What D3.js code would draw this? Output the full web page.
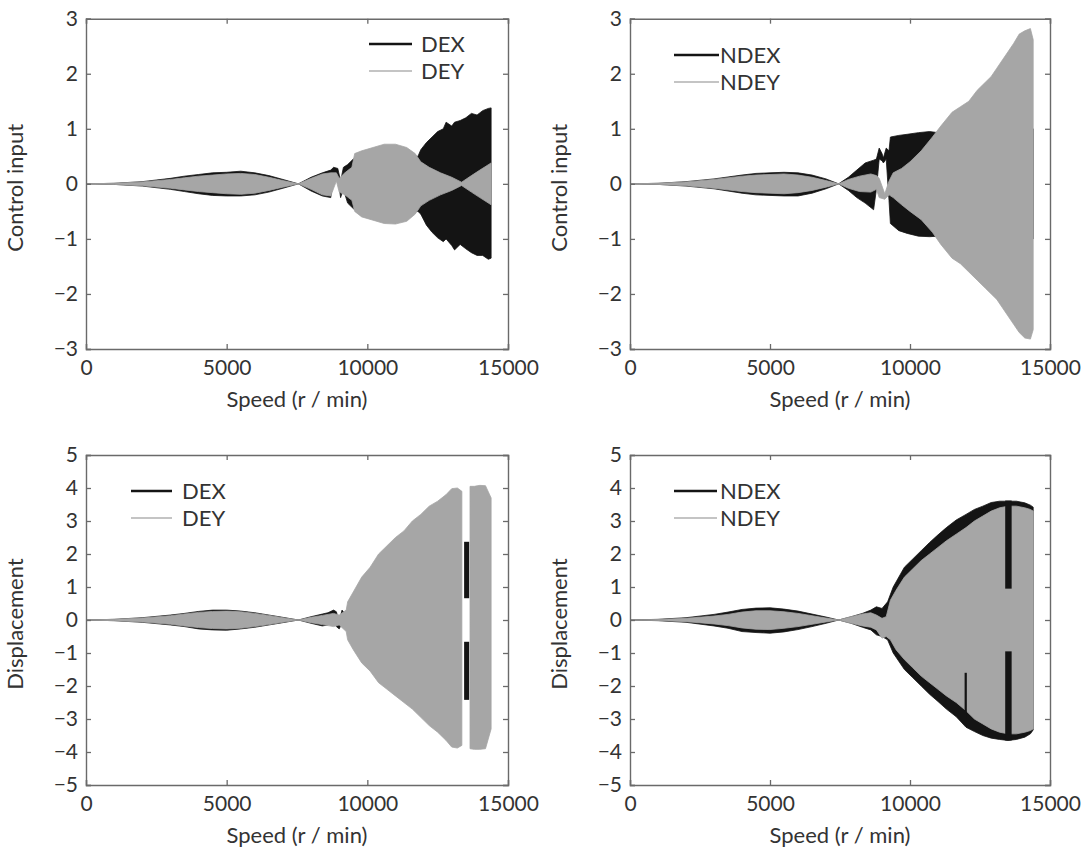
<!DOCTYPE html>
<html><head><meta charset="utf-8">
<script src="https://cdn.jsdelivr.net/npm/d3@7"></script>
<style>
body{margin:0;background:#fff}
text{font-family:Lato,'Open Sans',sans-serif;fill:#333}
</style>
</head><body>
<svg id="c" width="1084" height="857"></svg>
<script>
// ---------------- data ----------------
const xTicks = [0, 5000, 10000, 15000];
const ctrlTicks = [-3, -2, -1, 0, 1, 2, 3];
const dispTicks = [-5, -4, -3, -2, -1, 0, 1, 2, 3, 4, 5];
const legendP1 = ["DEX", "DEY"];
const legendP2 = ["NDEX", "NDEY"];

// each row: [speed (r/min), upper envelope, lower envelope]; null = no signal
const p1DEX = [[0,0,0],[1000,0.01,-0.01],[2000,0.04,-0.04],[3000,0.1,-0.1],[3500,0.14,-0.14],[4000,0.17,-0.18],[4500,0.2,-0.21],[5000,0.21,-0.22],[5500,0.23,-0.22],[6000,0.2,-0.2],[6500,0.15,-0.15],[7000,0.08,-0.08],[7550,0,0],[8000,0.12,-0.13],[8400,0.2,-0.22],[8700,0.25,-0.25],[8800,0.3,0.1],[8950,0.28,0.12],[9050,0.05,-0.25],[9150,0.3,-0.1],[9300,0.35,-0.35],[9500,0.45,-0.45],[9700,0.5,-0.5],[11800,0.5,-0.5],[11900,0.62,-0.55],[12100,0.75,-0.75],[12300,0.85,-0.88],[12500,0.95,-0.98],[12700,1.0,-1.05],[12800,1.12,-1.0],[13000,1.05,-1.12],[13100,1.12,-1.2],[13300,1.15,-1.1],[13500,1.2,-1.18],[13700,1.28,-1.25],[13900,1.25,-1.3],[14100,1.33,-1.3],[14300,1.37,-1.37],[14400,1.38,-1.35]];
const p1DEY = [[0,0,0],[1000,0.01,-0.01],[2000,0.035,-0.035],[3000,0.08,-0.08],[3500,0.11,-0.11],[4000,0.14,-0.14],[4500,0.16,-0.16],[5000,0.18,-0.18],[5500,0.19,-0.19],[6000,0.17,-0.17],[6500,0.12,-0.12],[7000,0.06,-0.06],[7550,0,0],[8000,0.1,-0.1],[8400,0.18,-0.2],[8700,0.2,-0.22],[8900,0.2,0.05],[9000,0.1,-0.15],[9200,0.2,-0.2],[9450,0.3,-0.3],[9550,0.55,-0.5],[9800,0.6,-0.6],[10200,0.66,-0.66],[10600,0.72,-0.72],[11000,0.72,-0.73],[11400,0.66,-0.68],[11700,0.55,-0.55],[11900,0.4,-0.4],[12200,0.3,-0.3],[12600,0.2,-0.2],[13000,0.12,-0.12],[13350,0.03,-0.03],[13700,0.15,-0.15],[14000,0.25,-0.25],[14400,0.38,-0.38]];

const p2NDEX = [[0,0,0],[1000,0.01,-0.01],[2000,0.04,-0.04],[3000,0.09,-0.09],[4000,0.16,-0.17],[4500,0.19,-0.2],[5000,0.2,-0.21],[5500,0.21,-0.22],[6000,0.2,-0.22],[6500,0.16,-0.17],[7000,0.09,-0.09],[7450,0,0],[7800,0.12,-0.12],[8100,0.25,-0.25],[8400,0.38,-0.35],[8700,0.43,-0.47],[8800,0.45,-0.1],[8900,0.65,0.45],[9000,0.55,0.42],[9050,0.47,0.38],[9150,0.65,0.45],[9250,0.6,-0.3],[9300,0.85,-0.72],[9600,0.88,-0.85],[9900,0.9,-0.9],[10300,0.93,-0.95],[10700,0.95,-0.96],[11000,0.93,-0.95],[11200,1.0,-1.0],[14400,1.0,-1.0]];
const p2NDEY = [[0,0,0],[1000,0.01,-0.01],[2000,0.035,-0.035],[3000,0.08,-0.08],[4000,0.14,-0.14],[4500,0.16,-0.16],[5000,0.17,-0.17],[5500,0.18,-0.18],[6000,0.16,-0.16],[6500,0.12,-0.12],[7000,0.06,-0.06],[7450,0,0],[7800,0.08,-0.08],[8200,0.14,-0.14],[8600,0.18,-0.15],[8800,0.15,-0.1],[8900,0.1,-0.25],[9100,-0.18,-0.28],[9250,0.05,-0.2],[9400,0.2,-0.25],[9700,0.28,-0.38],[10000,0.4,-0.5],[10400,0.6,-0.65],[10800,0.85,-0.88],[11100,1.05,-1.1],[11500,1.3,-1.35],[11800,1.4,-1.45],[12100,1.5,-1.6],[12400,1.7,-1.75],[12700,1.85,-1.9],[12900,1.95,-2.0],[13100,2.1,-2.1],[13300,2.25,-2.25],[13500,2.4,-2.4],[13700,2.55,-2.55],[13900,2.72,-2.7],[14100,2.78,-2.8],[14300,2.82,-2.82],[14400,2.62,-2.65]];

const p3DEX = [[0,0,0],[1000,0.02,-0.02],[2000,0.07,-0.07],[3000,0.15,-0.15],[3500,0.2,-0.2],[4000,0.26,-0.27],[4500,0.3,-0.3],[5000,0.3,-0.31],[5500,0.27,-0.27],[6000,0.22,-0.22],[6500,0.15,-0.15],[7000,0.08,-0.08],[7550,0,0],[8000,0.1,-0.1],[8400,0.18,-0.18],[8600,0.22,-0.15],[8800,0.3,0.08],[8900,0.25,-0.2],[9000,-0.05,-0.27],[9100,0.3,-0.1],[9200,0.2,-0.2],[9300,0,0]];
const p3DEY = [[0,0,0],[1000,0.02,-0.02],[2000,0.06,-0.06],[3000,0.13,-0.13],[3500,0.18,-0.18],[4000,0.23,-0.23],[4500,0.26,-0.26],[5000,0.27,-0.27],[5500,0.25,-0.25],[6000,0.2,-0.2],[6500,0.14,-0.14],[7000,0.07,-0.07],[7550,0,0],[8000,0.08,-0.08],[8400,0.14,-0.14],[8800,0.2,-0.2],[9000,0.15,-0.15],[9250,0.3,-0.35],[9300,0.55,-0.6],[9500,0.85,-0.9],[9800,1.3,-1.3],[10100,1.6,-1.55],[10400,2.0,-1.9],[10700,2.25,-2.1],[11000,2.5,-2.3],[11300,2.7,-2.5],[11600,3.0,-2.7],[11900,3.2,-2.95],[12200,3.45,-3.2],[12500,3.6,-3.4],[12800,3.8,-3.65],[13000,3.98,-3.85],[13200,4.0,-3.88],[13360,3.9,-3.8],[13370,null,null],[13640,null,null],[13650,4.05,-3.9],[13800,4.05,-3.92],[14000,4.08,-3.92],[14200,4.07,-3.9],[14400,3.7,-3.3]];
const p3DEXburst = [[13440,2.37,0.66],[13620,2.37,0.66]];
const p3DEXburstLow = [[13440,-0.66,-2.42],[13620,-0.66,-2.42]];

const p4NDEX = [[0,0,0],[1000,0.02,-0.02],[2000,0.07,-0.07],[3000,0.17,-0.18],[3500,0.24,-0.25],[4000,0.32,-0.35],[4500,0.36,-0.38],[5000,0.37,-0.4],[5500,0.33,-0.36],[6000,0.27,-0.29],[6500,0.18,-0.2],[7000,0.09,-0.1],[7450,0,0],[7900,0.1,-0.1],[8300,0.2,-0.22],[8600,0.3,-0.3],[8800,0.4,-0.45],[9000,0.35,-0.5],[9200,0.55,-0.6],[9400,1.0,-1.0],[9800,1.6,-1.5],[10100,1.85,-1.75],[10400,2.1,-2.0],[10700,2.35,-2.25],[11000,2.58,-2.47],[11300,2.8,-2.7],[11650,3.03,-2.93],[12000,3.2,-3.25],[12300,3.35,-3.38],[12600,3.45,-3.5],[12900,3.56,-3.58],[13200,3.6,-3.62],[13500,3.6,-3.65],[13800,3.6,-3.62],[14100,3.55,-3.55],[14300,3.48,-3.45],[14400,3.42,-3.33]];
const p4NDEY = [[0,0,0],[1000,0.015,-0.015],[2000,0.05,-0.05],[3000,0.12,-0.12],[3500,0.17,-0.17],[4000,0.24,-0.24],[4500,0.28,-0.28],[5000,0.28,-0.29],[5500,0.25,-0.25],[6000,0.2,-0.2],[6500,0.13,-0.13],[7000,0.06,-0.06],[7450,0,0],[7900,0.1,-0.1],[8300,0.18,-0.18],[8600,0.22,-0.22],[8800,0.15,-0.3],[9000,0.05,-0.55],[9150,0.1,-0.5],[9300,0.6,-0.6],[9500,0.9,-0.9],[9800,1.3,-1.2],[10100,1.55,-1.45],[10400,1.8,-1.7],[10700,2.0,-1.9],[11000,2.2,-2.1],[11300,2.4,-2.3],[11650,2.6,-2.5],[12000,2.8,-2.75],[12300,3.0,-3.0],[12600,3.15,-3.15],[12900,3.3,-3.3],[13200,3.4,-3.4],[13500,3.45,-3.45],[13800,3.45,-3.45],[14100,3.4,-3.4],[14300,3.35,-3.35],[14400,3.3,-3.3]];
const p4NDEXburst = [[13400,3.62,0.95],[13630,3.62,0.95]];
const p4NDEXburstLow = [[13400,-0.95,-3.65],[13630,-0.95,-3.65]];
const p4NDEXspike = [[11950,-1.6,-3.0],[12030,-1.6,-3.0]];

// ---------------- layout ----------------
const BLACK = "#141414", GRAY = "#a6a6a6";
const panels = [
  {left:86, top:18.7, w:422, h:330.3, ydom:[-3,3], yticks:ctrlTicks, ylabel:"Control input", names:legendP1,
   under:[p1DEX], over:[p1DEY], bursts:[], leg:{x1:369,x2:412,tx:421,y:[44,71]}},
  {left:630, top:18.7, w:420, h:330.3, ydom:[-3,3], yticks:ctrlTicks, ylabel:"Control input", names:legendP2,
   under:[p2NDEX], over:[p2NDEY], bursts:[], leg:{x1:674,x2:719,tx:720,y:[55,82]}},
  {left:86, top:455, w:422, h:330, ydom:[-5,5], yticks:dispTicks, ylabel:"Displacement", names:legendP1,
   under:[p3DEX], over:[p3DEY], bursts:[p3DEXburst,p3DEXburstLow], leg:{x1:131,x2:172,tx:182,y:[491,518]}},
  {left:630, top:455, w:420, h:330, ydom:[-5,5], yticks:dispTicks, ylabel:"Displacement", names:legendP2,
   under:[p4NDEX], over:[p4NDEY], bursts:[p4NDEXburst,p4NDEXburstLow,p4NDEXspike], leg:{x1:674,x2:717,tx:720,y:[491,518]}}
];

const svg = d3.select("#c");
const fmt = v => (v < 0 ? "\u2212" + Math.abs(v) : String(v));

panels.forEach((p, i) => {
  const x = d3.scaleLinear().domain([0, 15000]).range([p.left, p.left + p.w]);
  const y = d3.scaleLinear().domain(p.ydom).range([p.top + p.h, p.top]);
  const g = svg.append("g");
  const clipId = "clip" + i;
  svg.append("clipPath").attr("id", clipId).append("rect")
    .attr("x", p.left).attr("y", p.top).attr("width", p.w).attr("height", p.h);

  const area = d3.area()
    .defined(d => d[1] != null)
    .x(d => x(d[0])).y0(d => y(d[2])).y1(d => y(d[1]));

  const plot = g.append("g").attr("clip-path", `url(#${clipId})`);
  p.under.forEach(s => plot.append("path").attr("d", area(s)).attr("fill", BLACK)
      .attr("stroke", BLACK).attr("stroke-width", 0.8));
  p.over.forEach(s => plot.append("path").attr("d", area(s)).attr("fill", GRAY)
      .attr("stroke", GRAY).attr("stroke-width", 0.8));
  p.bursts.forEach(s => plot.append("path").attr("d", area(s)).attr("fill", BLACK));

  // axes: inward ticks on all four sides
  const tl = 5;
  const axL = d3.axisLeft(y).tickValues(p.yticks).tickSize(-tl).tickPadding(8).tickFormat(fmt);
  const axR = d3.axisRight(y).tickValues(p.yticks).tickSize(-tl).tickFormat("");
  const axB = d3.axisBottom(x).tickValues(xTicks).tickSize(-tl).tickPadding(11).tickFormat(d3.format("d"));
  const axT = d3.axisTop(x).tickValues(xTicks).tickSize(-tl).tickFormat("");
  const style = sel => {
    sel.selectAll("path.domain").attr("stroke", "#6a6a6a").attr("stroke-width", 1.4);
    sel.selectAll(".tick line").attr("stroke", "#6a6a6a").attr("stroke-width", 1.3);
    sel.selectAll("text").attr("font-size", 21).attr("font-family", "Lato, 'Open Sans', sans-serif").attr("fill", "#333");
  };
  g.append("g").attr("transform", `translate(${p.left},0)`).call(axL).call(style);
  g.append("g").attr("transform", `translate(${p.left + p.w},0)`).call(axR).call(style);
  g.append("g").attr("transform", `translate(0,${p.top + p.h})`).call(axB).call(style);
  g.append("g").attr("transform", `translate(0,${p.top})`).call(axT).call(style);
  g.selectAll(".domain").attr("fill", "none");

  // axis titles
  g.append("text").attr("x", p.left + p.w / 2).attr("y", p.top + p.h + 58)
    .attr("text-anchor", "middle").attr("font-size", 22).text("Speed (r / min)");
  g.append("text").attr("transform", `translate(${p.left - 63},${p.top + p.h / 2 + 4}) rotate(-90)`)
    .attr("text-anchor", "middle").attr("font-size", 22).text(p.ylabel);

  // legend
  const L = p.leg;
  [[BLACK, 2.6], ["#b0b0b0", 1.6]].forEach((st, k) => {
    g.append("line").attr("x1", L.x1).attr("x2", L.x2).attr("y1", L.y[k]).attr("y2", L.y[k])
      .attr("stroke", st[0]).attr("stroke-width", st[1]);
    g.append("text").attr("x", L.tx).attr("y", L.y[k]).attr("dy", "0.36em")
      .attr("font-size", 22).text(p.names[k]);
  });
});
</script>
</body></html>
